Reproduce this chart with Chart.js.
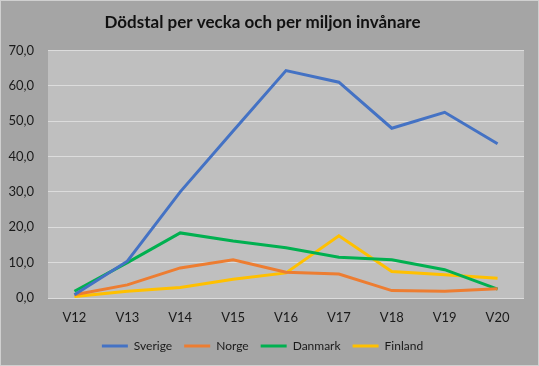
<!DOCTYPE html>
<html>
<head>
<meta charset="utf-8">
<script src="https://cdn.jsdelivr.net/npm/chart.js@4/dist/chart.umd.min.js"></script>
<style>
html,body{margin:0;padding:0;background:#a5a5a5;}
#wrap{position:relative;width:539px;height:366px;box-sizing:border-box;border:1px solid #d0d0d0;}
canvas{display:block;}
</style>
</head>
<body>
<div id="wrap"><canvas id="c" width="537" height="364"></canvas></div>
<script>
const weeks = ["V12","V13","V14","V15","V16","V17","V18","V19","V20"];
const sverige = [0.9, 10.4, 30.0, 47.2, 64.3, 61.0, 48.0, 52.5, 43.6];
const norge   = [0.9, 3.7, 8.5, 10.8, 7.3, 6.8, 2.1, 1.9, 2.6];
const danmark = [1.9, 10.0, 18.4, 16.1, 14.2, 11.5, 10.8, 8.0, 2.5];
const finland = [0.4, 1.9, 3.0, 5.3, 7.1, 17.6, 7.5, 6.6, 5.6];
const yTicks = [0,10,20,30,40,50,60,70];

const plotBg = {
  id:'plotBg',
  beforeDraw(chart){
    const {ctx, chartArea:a} = chart;
    ctx.save();
    ctx.fillStyle = '#bfbfbf';
    ctx.fillRect(a.left, a.top, a.right - a.left, a.bottom - a.top + 1);
    ctx.restore();
  }
};

function ds(label, data, color){
  return {label, data, borderColor:color, backgroundColor:color, borderWidth:3,
    pointRadius:0, pointHoverRadius:0, tension:0, fill:false};
}

new Chart(document.getElementById('c'), {
  type:'line',
  data:{
    labels: weeks,
    datasets:[
      ds('Sverige', sverige, '#4472C4'),
      ds('Norge', norge, '#ED7D31'),
      ds('Danmark', danmark, '#00B050'),
      ds('Finland', finland, '#FFC000')
    ]
  },
  options:{
    responsive:false,
    animation:false,
    layout:{padding:{left:0,right:14,top:0,bottom:3}},
    plugins:{
      title:{display:true, text:'Dödstal per vecka och per miljon invånare',
        color:'#111', font:{family:'Lato', size:17, weight:'bold'},
        padding:{top:11, bottom:18}},
      legend:{position:'bottom',
        labels:{usePointStyle:true, pointStyle:'line', pointStyleWidth:26,
          color:'#1a1a1a', font:{family:'Lato', size:12}, padding:12}},
      tooltip:{enabled:false}
    },
    scales:{
      x:{
        offset:true,
        grid:{display:false, drawTicks:false},
        border:{display:false},
        ticks:{color:'#1a1a1a', font:{family:'Lato', size:13}, padding:12, maxRotation:0},
        afterFit(s){ s.height = 30; }
      },
      y:{
        min:0, max:70,
        afterBuildTicks(s){ s.ticks = yTicks.map(v=>({value:v})); },
        grid:{color:'#dcdcdc', lineWidth:1, drawTicks:false},
        border:{display:false},
        ticks:{color:'#1a1a1a', font:{family:'Lato', size:13}, padding:14,
          callback:v=>v.toFixed(1).replace('.',',')},
        afterFit(s){ s.width = 47; }
      }
    }
  },
  plugins:[plotBg]
});
</script>
</body>
</html>
